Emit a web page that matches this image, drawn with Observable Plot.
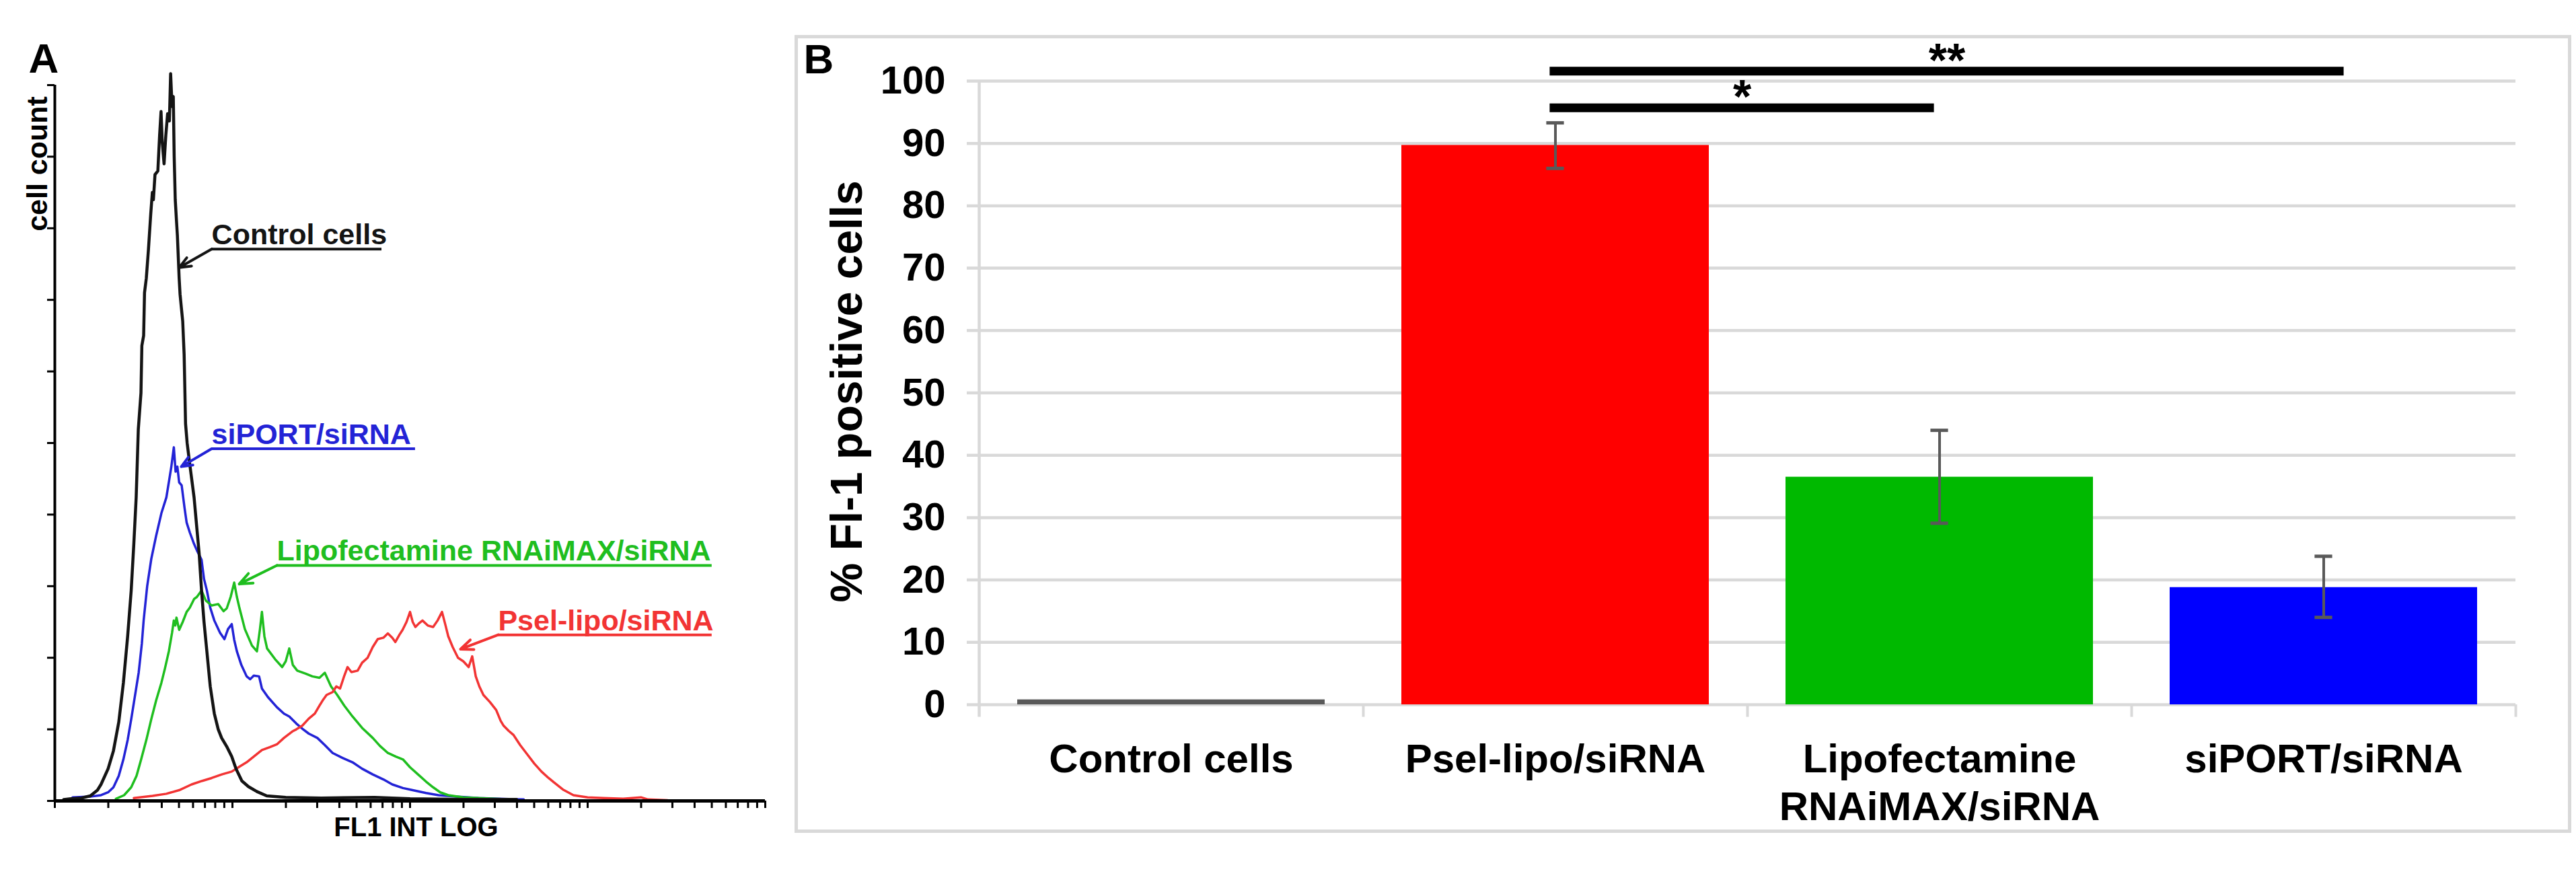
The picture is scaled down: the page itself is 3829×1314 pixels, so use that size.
<!DOCTYPE html>
<html>
<head>
<meta charset="utf-8">
<script src="https://cdn.jsdelivr.net/npm/d3@7"></script>
<script src="https://cdn.jsdelivr.net/npm/@observablehq/plot@0.6"></script>
<style>
  body { margin: 0; background: #fff; }
  #page { position: relative; width: 3829px; height: 1314px; background: #fff; overflow: hidden;
          font-family: "Liberation Sans", Arial, Helvetica, sans-serif; }
  #page svg { position: absolute; top: 0; max-width: none; }
  #boxB { position: absolute; left: 1181px; top: 52px; width: 2641px; height: 1186px;
          border: 5px solid #d9d9d9; box-sizing: border-box; }
</style>
</head>
<body>
<div id="page"><div id="boxB"></div></div>
<script>
// ---------------- Panel A: flow cytometry histograms ----------------
// [FL1 intensity (log decades, 0..4), cell count (axis tick units, 0..10)]
const controlCurve = [[0.05,0.02],[0.09,0.03],[0.15,0.04],[0.2,0.07],[0.24,0.15],[0.26,0.23],[0.3,0.45],[0.33,0.7],[0.36,1.1],[0.386,1.65],[0.41,2.3],[0.43,2.94],[0.445,3.6],[0.458,4.24],[0.47,5.19],[0.485,5.7],[0.49,6.36],[0.5,6.5],[0.505,7.1],[0.515,7.3],[0.527,7.7],[0.54,8.2],[0.549,8.5],[0.555,8.4],[0.564,8.75],[0.58,8.8],[0.59,9.3],[0.598,9.63],[0.605,9.2],[0.615,8.9],[0.625,9.3],[0.635,9.6],[0.645,9.5],[0.652,10.16],[0.66,9.7],[0.667,9.84],[0.672,9.0],[0.678,8.4],[0.685,8.1],[0.69,7.9],[0.7,7.3],[0.705,7.08],[0.712,6.9],[0.72,6.7],[0.728,6.24],[0.736,5.27],[0.745,5.0],[0.76,4.7],[0.784,4.24],[0.8,3.8],[0.8125,3.46],[0.826,2.94],[0.84,2.5],[0.856,2.09],[0.875,1.6],[0.898,1.22],[0.92,1.0],[0.939,0.88],[0.97,0.75],[0.996,0.62],[1.02,0.45],[1.053,0.28],[1.09,0.2],[1.138,0.13],[1.193,0.07],[1.3,0.05],[1.5,0.04],[1.8,0.05],[2.0,0.03],[2.3,0.02],[2.6,0.02]];
const siportCurve = [[0.1,0.05],[0.2,0.06],[0.26,0.08],[0.3,0.12],[0.33,0.19],[0.36,0.35],[0.386,0.58],[0.41,0.85],[0.43,1.14],[0.45,1.45],[0.472,1.79],[0.49,2.2],[0.5,2.52],[0.52,3.0],[0.543,3.38],[0.57,3.7],[0.6,4.02],[0.628,4.24],[0.645,4.5],[0.656,4.67],[0.67,4.94],[0.68,4.6],[0.69,4.67],[0.7,4.45],[0.714,4.41],[0.73,4.1],[0.742,3.89],[0.76,3.75],[0.784,3.59],[0.8,3.5],[0.826,3.37],[0.84,3.1],[0.856,2.94],[0.875,2.7],[0.898,2.52],[0.93,2.35],[0.955,2.26],[0.975,2.4],[0.996,2.47],[1.01,2.25],[1.025,2.09],[1.05,1.9],[1.08,1.74],[1.1,1.7],[1.12,1.75],[1.15,1.74],[1.166,1.57],[1.2,1.45],[1.25,1.31],[1.29,1.22],[1.32,1.18],[1.36,1.08],[1.393,1.01],[1.43,0.94],[1.478,0.88],[1.52,0.78],[1.564,0.67],[1.62,0.6],[1.676,0.54],[1.73,0.45],[1.79,0.37],[1.85,0.3],[1.9,0.23],[1.96,0.18],[2.015,0.15],[2.09,0.11],[2.16,0.08],[2.26,0.06],[2.386,0.04],[2.5,0.03],[2.64,0.02]];
const lipofectamineCurve = [[0.344,0.03],[0.39,0.08],[0.43,0.19],[0.46,0.35],[0.486,0.58],[0.515,0.85],[0.543,1.14],[0.57,1.4],[0.6,1.65],[0.62,1.85],[0.642,2.09],[0.66,2.35],[0.67,2.52],[0.678,2.45],[0.685,2.56],[0.7,2.39],[0.72,2.5],[0.742,2.64],[0.76,2.7],[0.784,2.82],[0.8,2.85],[0.826,2.94],[0.85,2.8],[0.883,2.73],[0.92,2.75],[0.95,2.65],[0.968,2.69],[0.99,2.85],[1.01,3.05],[1.025,2.85],[1.04,2.69],[1.07,2.4],[1.11,2.17],[1.138,2.09],[1.155,2.4],[1.166,2.64],[1.18,2.3],[1.195,2.13],[1.24,1.98],[1.28,1.87],[1.3,1.95],[1.32,2.13],[1.34,1.9],[1.365,1.82],[1.41,1.78],[1.45,1.74],[1.49,1.72],[1.52,1.79],[1.555,1.6],[1.59,1.48],[1.63,1.33],[1.676,1.18],[1.73,1.02],[1.79,0.88],[1.83,0.77],[1.875,0.67],[1.92,0.62],[1.96,0.58],[2.0,0.47],[2.045,0.37],[2.09,0.27],[2.13,0.19],[2.17,0.12],[2.215,0.08],[2.3,0.05],[2.386,0.04],[2.56,0.02]];
const pselCurve = [[0.445,0.04],[0.55,0.07],[0.628,0.1],[0.7,0.15],[0.77,0.23],[0.83,0.28],[0.883,0.32],[0.94,0.37],[0.996,0.41],[1.04,0.48],[1.08,0.54],[1.12,0.62],[1.166,0.71],[1.21,0.75],[1.25,0.79],[1.29,0.88],[1.337,0.97],[1.36,1.0],[1.393,1.05],[1.43,1.15],[1.464,1.22],[1.49,1.33],[1.507,1.4],[1.53,1.48],[1.564,1.52],[1.585,1.6],[1.606,1.57],[1.63,1.75],[1.648,1.87],[1.67,1.8],[1.705,1.82],[1.73,1.93],[1.761,2.0],[1.79,2.15],[1.818,2.26],[1.85,2.28],[1.875,2.34],[1.9,2.28],[1.917,2.22],[1.94,2.32],[1.958,2.39],[1.98,2.5],[2.0,2.64],[2.015,2.5],[2.03,2.43],[2.05,2.48],[2.07,2.52],[2.1,2.45],[2.13,2.43],[2.155,2.52],[2.18,2.64],[2.2,2.45],[2.215,2.3],[2.24,2.15],[2.27,2.0],[2.3,1.95],[2.33,1.87],[2.35,2.02],[2.37,1.74],[2.39,1.6],[2.413,1.48],[2.45,1.38],[2.485,1.27],[2.51,1.12],[2.527,1.05],[2.555,0.98],[2.583,0.92],[2.62,0.78],[2.654,0.67],[2.7,0.52],[2.74,0.41],[2.78,0.32],[2.81,0.26],[2.86,0.16],[2.92,0.08],[3.0,0.05],[3.09,0.04],[3.2,0.03],[3.3,0.05],[3.34,0.02],[3.45,0.01]];

const seriesNames = ["Control cells", "siPORT/siRNA", "Lipofectamine RNAiMAX/siRNA", "Psel-lipo/siRNA"];
const seriesColors = ["#141414", "#2323d6", "#1fbe1f", "#f23434"];

// annotation anchors (data units): label/underline start, underline end, arrow tip
const annFL1      = [0.883, 0.883, 1.25, 2.496];
const annFL1End   = [1.841, 2.03, 3.70, 3.70];
const annCount    = [7.71, 4.92, 3.29, 2.32];
const annTipFL1   = [0.70, 0.712, 1.038, 2.284];
const annTipCount = [7.45, 4.67, 3.03, 2.12];

const xTickValuesA = [1,2,3,4,5,6,7,8,9,10,20,30,40,50,60,70,80,90,100,200,300,400,500,600,700,800,900,1000,2000,3000,4000,5000,6000,7000,8000,9000,10000];
const yTicksA = [0,1,2,3,4,5,6,7,8,9,10];

// ---------------- Panel B: bar chart ----------------
const categories = ["Control cells", "Psel-lipo/siRNA", "Lipofectamine RNAiMAX/siRNA", "siPORT/siRNA"];
const categoryLabels = ["Control cells", "Psel-lipo/siRNA", "Lipofectamine\nRNAiMAX/siRNA", "siPORT/siRNA"];
const positivePct = [0.8, 89.7, 36.5, 18.8];
const errLow  = [null, 86.0, 29.1, 14.0];
const errHigh = [null, 93.3, 44.0, 23.8];
const barColors = ["#595959", "#ff0000", "#00b900", "#0000ff"];
const yTicksB = [0,10,20,30,40,50,60,70,80,90,100];
const sigFrom  = ["Psel-lipo/siRNA", "Psel-lipo/siRNA"];
const sigTo    = ["Lipofectamine RNAiMAX/siRNA", "siPORT/siRNA"];
const sigLevel = [95.7, 101.6];
const sigMark  = ["*", "**"];

// ---------------- build ----------------
const FONT = '"Liberation Sans", Arial, Helvetica, sans-serif';
const page = document.getElementById("page");

const curves = [controlCurve, siportCurve, lipofectamineCurve, pselCurve];
const histRows = curves.flatMap((c, i) => c.map(([fl1, count]) => ({series: seriesNames[i], fl1, count})));
const ann = seriesNames.map((s, i) => ({series: s, x: annFL1[i], xEnd: annFL1End[i], y: annCount[i], tipX: annTipFL1[i], tipY: annTipCount[i]}));

const plotA = Plot.plot({
  width: 1170, height: 1314,
  marginLeft: 81, marginRight: 33, marginTop: 126, marginBottom: 124,
  style: {fontFamily: FONT, fontWeight: "bold", background: "transparent", overflow: "visible", color: "#000"},
  x: {domain: [0, 4], label: null},
  y: {domain: [0, 10], label: null},
  color: {domain: seriesNames, range: seriesColors},
  marks: [
    Plot.line(histRows.filter(d => d.series !== seriesNames[0]), {x: "fl1", y: "count", z: "series", stroke: "series", strokeWidth: 3.5, curve: "linear"}),
    Plot.line(histRows.filter(d => d.series === seriesNames[0]), {x: "fl1", y: "count", stroke: "series", strokeWidth: 4.5, curve: "linear"}),
    Plot.ruleX([0], {y1: 0, y2: 10, stroke: "#000", strokeWidth: 4}),
    Plot.ruleY([0], {stroke: "#000", strokeWidth: 5}),
    Plot.axisY({ticks: yTicksA, tickSize: 11, tickFormat: () => "", strokeWidth: 3, label: null}),
    Plot.axisX({ticks: xTickValuesA.map(Math.log10), tickSize: 11, tickFormat: () => "", strokeWidth: 3, label: null}),
    Plot.ruleY(ann, {y: "y", x1: "x", x2: "xEnd", stroke: "series", strokeWidth: 4}),
    Plot.arrow(ann, {x1: "x", y1: "y", x2: "tipX", y2: "tipY", stroke: "series", strokeWidth: 4, headLength: 18, headAngle: 45}),
    Plot.text(ann, {x: "x", y: "y", text: "series", fill: "series", textAnchor: "start", lineAnchor: "bottom", dy: -7, fontSize: 43, fontWeight: "bold"}),
    Plot.text(["A"], {text: d => d, frameAnchor: "top-left", dx: -39, dy: -19, textAnchor: "start", lineAnchor: "bottom", fontSize: 62, fontWeight: "bold"}),
    Plot.text(["cell count"], {text: d => d, frameAnchor: "top-left", rotate: -90, dx: -12, dy: 117, textAnchor: "middle", lineAnchor: "bottom", fontSize: 43, fontWeight: "bold"}),
    Plot.text(["FL1 INT LOG"], {text: d => d, frameAnchor: "bottom", dx: 9, dy: 52, textAnchor: "middle", lineAnchor: "bottom", fontSize: 40, fontWeight: "bold"})
  ]
});
plotA.style.left = "0px";
page.appendChild(plotA);

const WB = 2659, mlB = 285, mrB = 90;
const stepB = (WB - mlB - mrB) / categories.length;
const bwB = stepB * 0.8;

const barRows = categories.map((c, i) => ({cat: c, pct: positivePct[i], color: barColors[i], lo: errLow[i], hi: errHigh[i]}));
const errRows = barRows.filter(d => d.lo != null);
const sigRows = sigFrom.map((f, i) => ({from: f, to: sigTo[i], level: sigLevel[i], mark: sigMark[i],
  span: categories.indexOf(sigTo[i]) - categories.indexOf(f)}));
const sigRightExtend = [-8, 30]; // visual overshoot of bracket ends

const sigMarks = sigRows.flatMap((s, i) => [
  Plot.ruleY([s], {x1: "from", x2: "to", y: "level", stroke: "#000", strokeWidth: 13,
    insetLeft: bwB / 2 - 8, insetRight: bwB / 2 - sigRightExtend[i]}),
  Plot.text([s], {x: "from", y: "level", text: "mark", dx: s.span * stepB / 2 + (sigRightExtend[i] - 8) / 2,
    dy: 8, textAnchor: "middle", lineAnchor: "bottom", fontSize: 70, fontWeight: "bold", fill: "#000"})
]);

const plotB = Plot.plot({
  width: WB, height: 1314,
  marginLeft: mlB, marginRight: mrB, marginTop: 120, marginBottom: 267,
  style: {fontFamily: FONT, fontWeight: "bold", background: "transparent", overflow: "visible", color: "#000"},
  x: {domain: categories, paddingInner: 0.2, paddingOuter: 0.1, label: null},
  y: {domain: [0, 100], label: null},
  color: {type: "identity"},
  marks: [
    Plot.ruleY(yTicksB, {stroke: "#d9d9d9", strokeWidth: 4.5, insetLeft: -18}),
    Plot.ruleX([categories[0]], {dx: -stepB / 2, y1: 100, y2: -2, stroke: "#d9d9d9", strokeWidth: 4.5}),
    Plot.ruleX(categories.slice(1), {x: d => d, dx: -stepB / 2, y1: 0, y2: -2, stroke: "#d9d9d9", strokeWidth: 4}),
    Plot.ruleX([categories[categories.length - 1]], {x: d => d, dx: stepB / 2, y1: 0, y2: -2, stroke: "#d9d9d9", strokeWidth: 4}),
    Plot.barY(barRows, {x: "cat", y: "pct", fill: "color"}),
    Plot.ruleX(errRows, {x: "cat", y1: "lo", y2: "hi", stroke: "#595959", strokeWidth: 4}),
    Plot.ruleY(errRows, {x1: "cat", x2: "cat", y: "hi", stroke: "#595959", strokeWidth: 5, insetLeft: bwB / 2 - 13, insetRight: bwB / 2 - 13}),
    Plot.ruleY(errRows, {x1: "cat", x2: "cat", y: "lo", stroke: "#595959", strokeWidth: 5, insetLeft: bwB / 2 - 13, insetRight: bwB / 2 - 13}),
    ...sigMarks,
    Plot.axisY({ticks: yTicksB, tickSize: 0, tickPadding: 50, fontSize: 58, fontWeight: "bold", tickFormat: d => String(d), label: null}),
    Plot.axisX({tickSize: 0, tickPadding: 50, fontSize: 60, fontWeight: "bold", lineHeight: 1.18,
      tickFormat: d => categoryLabels[categories.indexOf(d)], label: null}),
    Plot.text(["% Fl-1 positive cells"], {text: d => d, frameAnchor: "left", rotate: -90, dx: -175, dy: -2,
      textAnchor: "middle", lineAnchor: "bottom", fontSize: 66, fontWeight: "bold"}),
    Plot.text(["B"], {text: d => d, frameAnchor: "top-left", dx: -261, dy: -12, textAnchor: "start", lineAnchor: "bottom", fontSize: 62, fontWeight: "bold"})
  ]
});
plotB.style.left = "1170px";
page.appendChild(plotB);
</script>
</body>
</html>
